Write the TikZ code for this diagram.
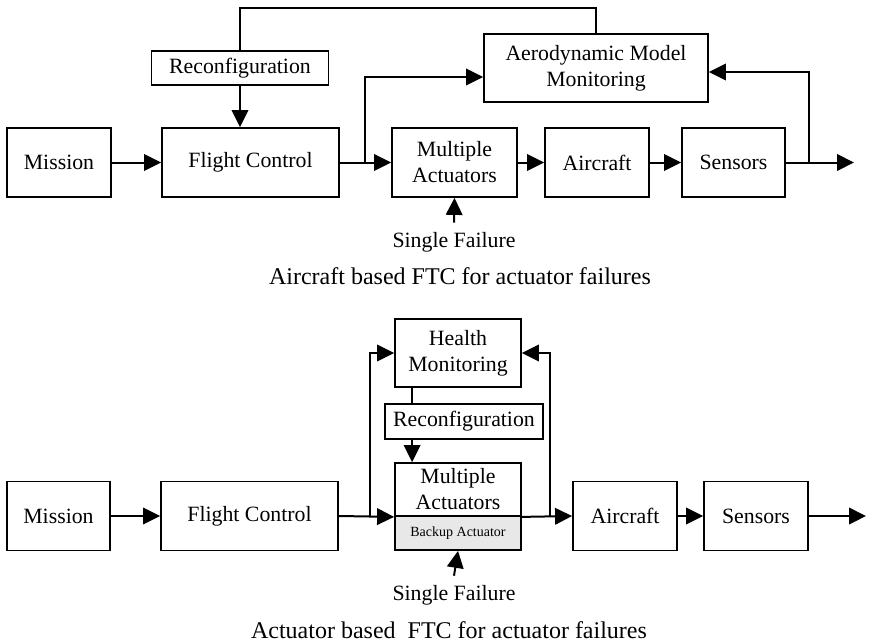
\documentclass[tikz,border=0pt]{standalone}
\usepackage{fontspec}
\setmainfont{Liberation Serif}
\usetikzlibrary{arrows.meta}
\begin{document}
\begin{tikzpicture}[x=1pt,y=-1pt,
  box/.style={draw, line width=1.8pt, align=center, inner sep=0pt, font=\fontsize{21.8}{26}\selectfont},
  arr/.style={line width=2pt, -{Triangle[length=17pt,width=16.5pt]}},
  ln/.style={line width=2pt},
  lbl/.style={font=\fontsize{21.8}{25}\selectfont, inner sep=2pt},
  captext/.style={font=\fontsize{24}{28}\selectfont, inner sep=0pt}]
\useasboundingbox (0,0) rectangle (872,642);
% ---------- top diagram ----------
\node[box, minimum width=104pt, minimum height=69pt] (mission1) at (59,162.5) {Mission};
\node[box, minimum width=177pt, minimum height=69pt] (fc1) at (250.5,162.5) {Flight Control};
\node[box, minimum width=177pt, minimum height=34pt] (reconf1) at (240,68) {Reconfiguration};
\node[box, minimum width=224pt, minimum height=68pt] (aero) at (596,68) {Aerodynamic Model\\Monitoring};
\node[box, minimum width=125pt, minimum height=69pt] (ma1) at (454.5,162.5) {Multiple\\Actuators};
\node[box, minimum width=104pt, minimum height=69pt] (ac1) at (597,162.5) {Aircraft};
\node[box, minimum width=103pt, minimum height=69pt] (sens1) at (733.5,162.5) {Sensors};
\node[lbl, anchor=base] (sf1) at (454,247) {Single Failure};
\node[captext] (cap1) at (460,276) {Aircraft based FTC for actuator failures};
\coordinate (b1) at (365,162.5);
\coordinate (b2) at (809,162.5);
\coordinate (out1) at (854,162.5);
\draw[ln] (reconf1.north) -- (reconf1.north |- 0,8) -| (aero.north);
\draw[arr] (reconf1.south) -- (reconf1.south |- fc1.north);
\draw[arr] (mission1.east) -- (fc1.west);
\draw[arr] (fc1.east) -- (ma1.west);
\draw[arr] (b1) |- (aero.west |- 0,77);
\draw[arr] (ma1.east) -- (ac1.west);
\draw[arr] (ac1.east) -- (sens1.west);
\draw[arr] (sens1.east) -- (out1);
\draw[arr] (b2) |- (aero.east |- 0,72);
\draw[arr] ([yshift=7pt]sf1.north) -- (ma1.south);
% ---------- bottom diagram ----------
\node[box, minimum width=103pt, minimum height=69pt] (mission2) at (58.5,516) {Mission};
\node[box, minimum width=177pt, minimum height=69pt] (fc2) at (249.5,516) {Flight Control};
\node[box, minimum width=126pt, minimum height=68pt] (health) at (458,353) {Health\\Monitoring};
\node[box, minimum width=158pt, minimum height=35pt] (reconf2) at (464,421.5) {Reconfiguration};
\node[box, minimum width=126pt, minimum height=53pt] (ma2) at (458,489.5) {Multiple\\Actuators};
\node[box, fill=black!9, minimum width=126pt, minimum height=34pt, font=\fontsize{14}{16}\selectfont] (backup) at (458,533) {Backup Actuator};
\node[box, minimum width=104pt, minimum height=69pt] (ac2) at (625,516) {Aircraft};
\node[box, minimum width=104pt, minimum height=69pt] (sens2) at (756,516) {Sensors};
\node[lbl, anchor=base] (sf2) at (454,600) {Single Failure};
\node[captext] (cap2) at (449,630) {Actuator based\ \ FTC for actuator failures};
\coordinate (b3) at (370,516);
\coordinate (b4) at (550,516);
\coordinate (out2) at (866,516);
\draw[arr] (mission2.east) -- (fc2.west);
\draw[arr] (fc2.east) -- (ma2.south west);
\draw[arr] (b3) |- (health.west);
\draw[arr] (ma2.south east) -- (ac2.west);
\draw[arr] (b4) |- (health.east);
\draw[arr] (ac2.east) -- (sens2.west);
\draw[arr] (sens2.east) -- (out2);
\draw[ln] ([xshift=18pt]health.south west) -- ([xshift=18pt]health.south west |- reconf2.north);
\draw[arr] ([xshift=18pt]health.south west |- reconf2.south) -- ([xshift=18pt]ma2.north west);
\draw[arr] ([yshift=7pt]sf2.north) -- (backup.south);
\end{tikzpicture}
\end{document}
